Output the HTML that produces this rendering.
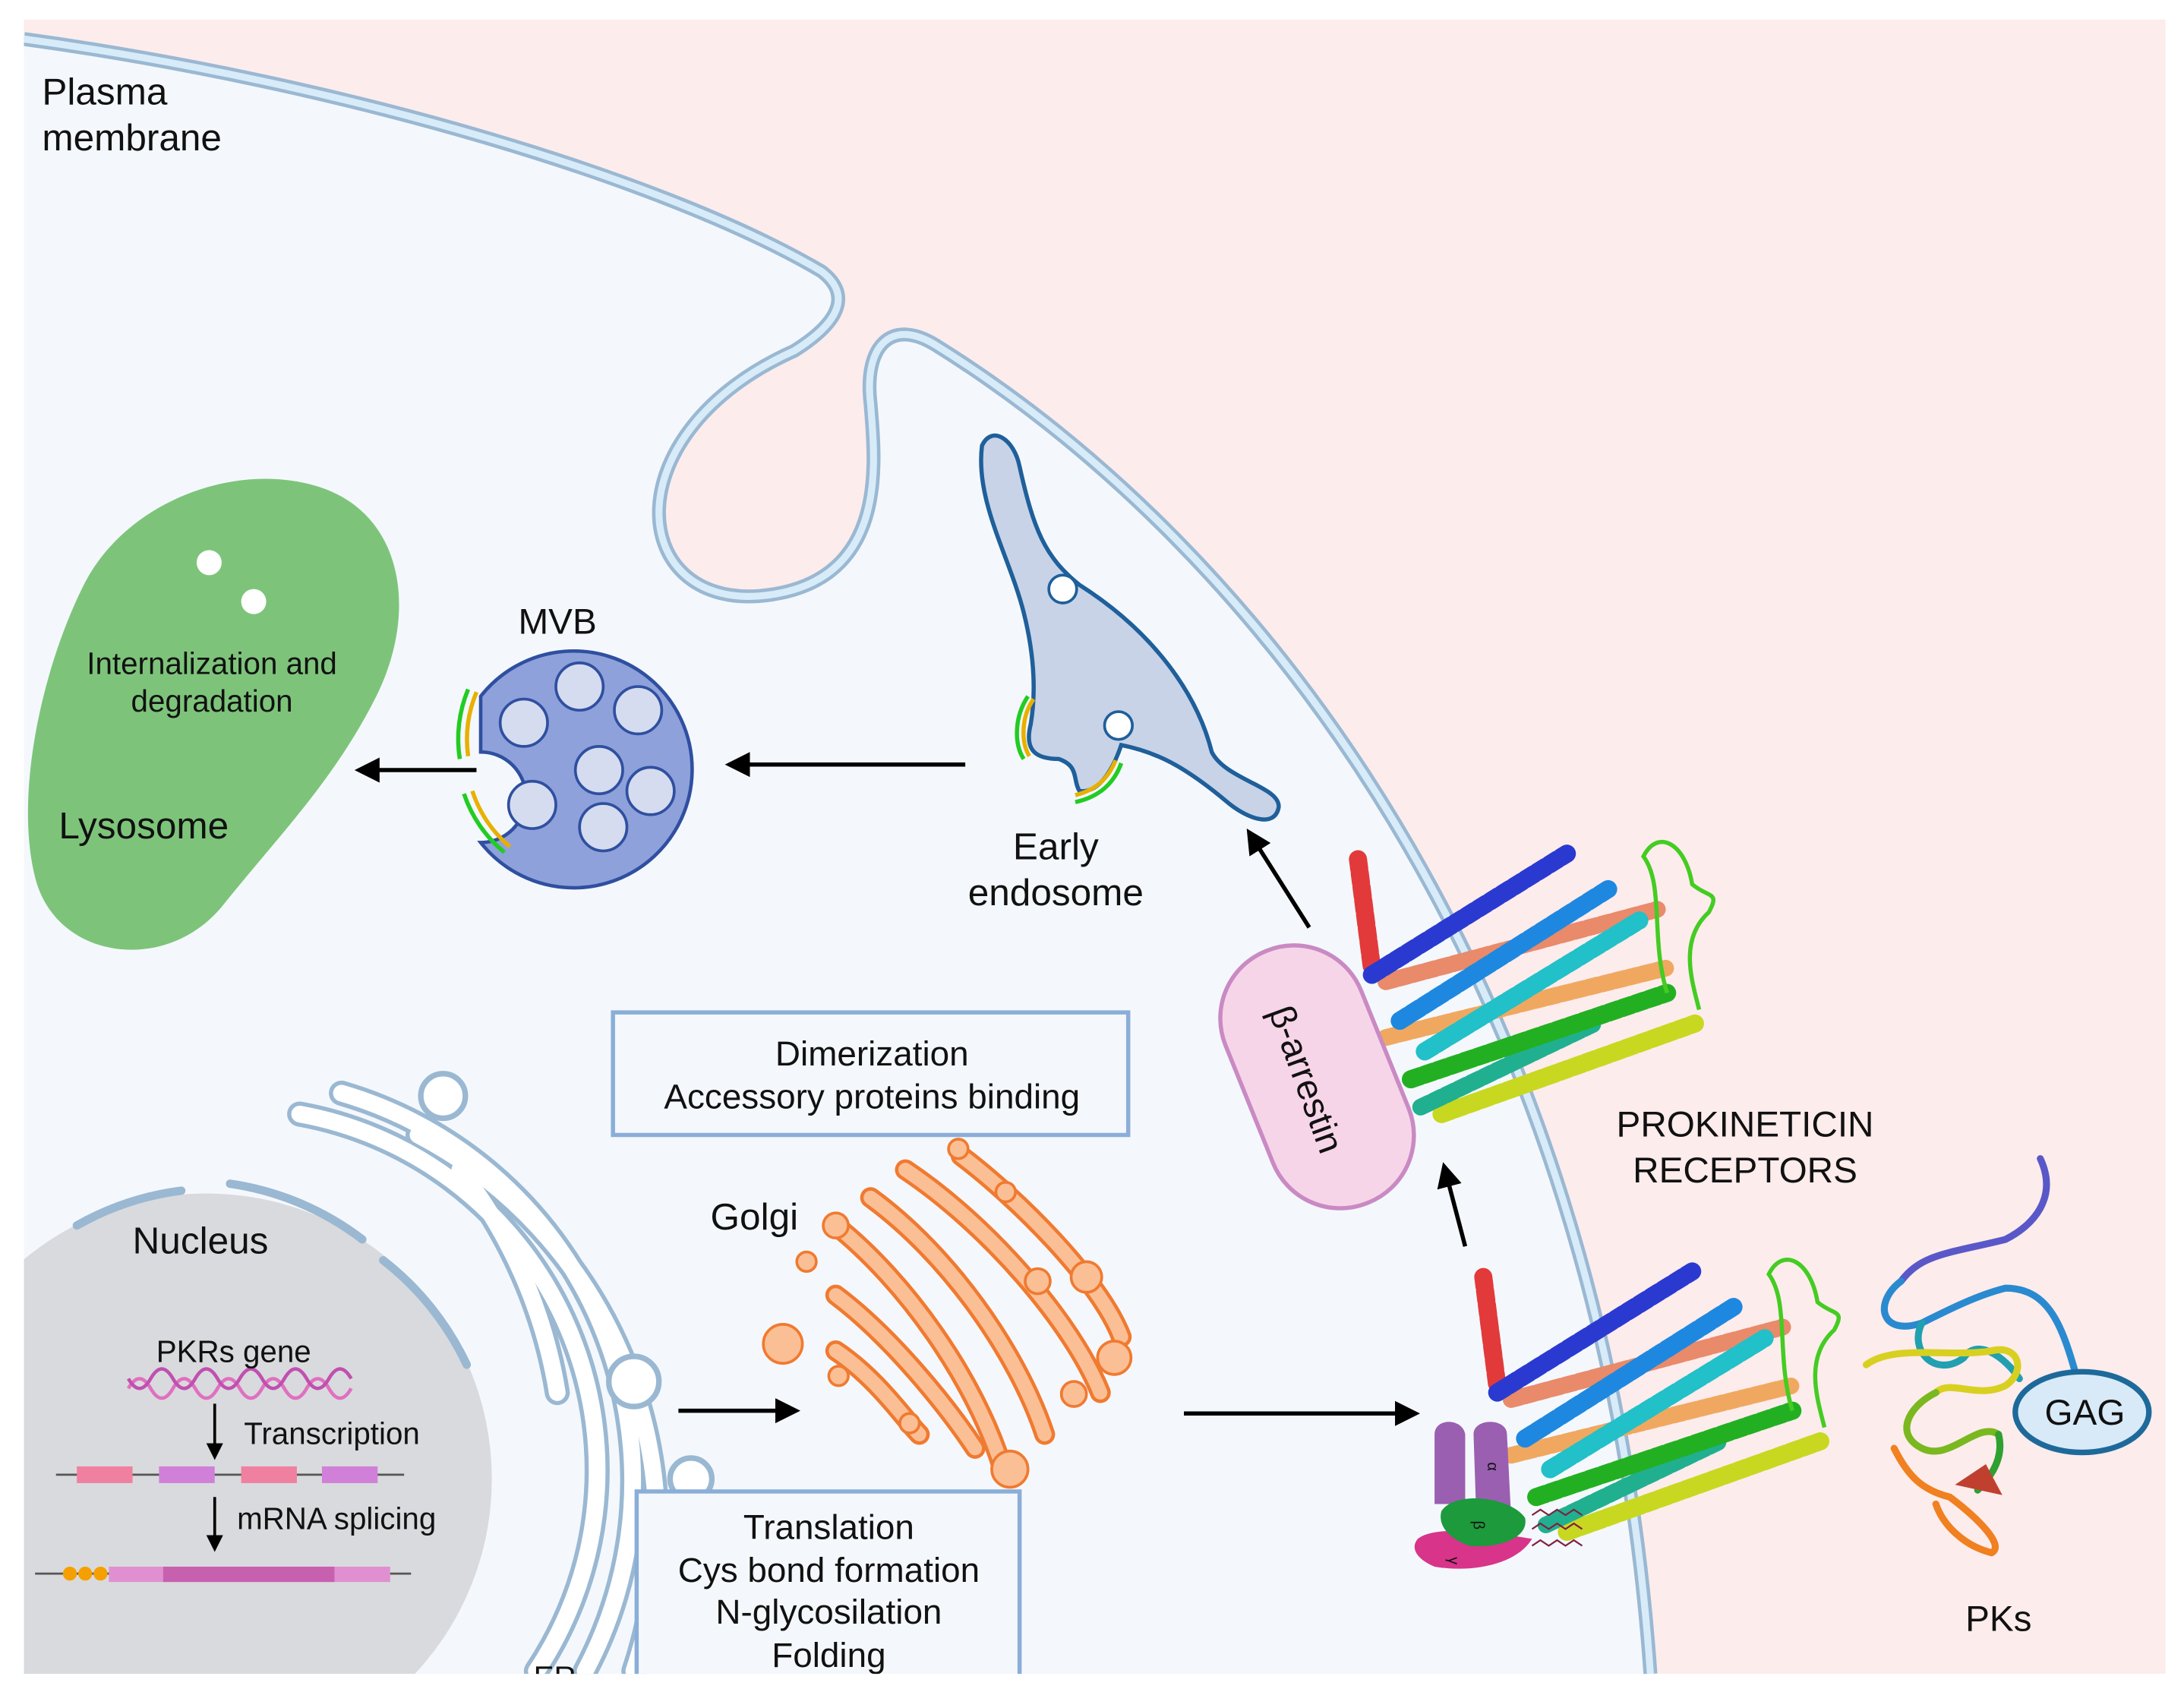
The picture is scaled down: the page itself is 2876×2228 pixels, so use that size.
<!DOCTYPE html>
<html><head><meta charset="utf-8"><style>
html,body{margin:0;padding:0;background:#fff}
svg{display:block}
text{font-family:"Liberation Sans",sans-serif;fill:#111}
</style></head><body>
<svg width="2876" height="2228" viewBox="0 0 1568 1215" xmlns="http://www.w3.org/2000/svg">
<defs>
<clipPath id="c"><rect x="17" y="14" width="1538" height="1188"/></clipPath>
<marker id="ah" viewBox="0 0 10 10" refX="8" refY="5" markerWidth="6" markerHeight="6" orient="auto"><path d="M0,0 L10,5 L0,10 Z" fill="#000"/></marker>
<g id="rec">
<g fill="none" stroke-linecap="round" stroke-dasharray="7 3">
<path d="M10,22 L20,100" stroke="#e23a3a" stroke-width="13"/>
<path d="M30,110 L225,58" stroke="#e98a6a" stroke-width="12"/>
<path d="M30,150 L232,100" stroke="#f0a860" stroke-width="12"/>
<path d="M20,105 L160,18" stroke="#2a3ad0" stroke-width="13"/>
<path d="M40,138 L192,42" stroke="#1e88e0" stroke-width="13"/>
<path d="M58,160 L212,66" stroke="#22c0c8" stroke-width="13"/>
<path d="M70,205 L252,140" stroke="#c8d820" stroke-width="13"/>
<path d="M55,200 L180,140" stroke="#20b090" stroke-width="12"/>
<path d="M48,180 L232,118" stroke="#22b022" stroke-width="13"/>
</g>
<path d="M232,118 C220,80 230,40 215,20 C225,0 245,10 250,40 C262,50 270,45 262,60 C240,80 250,110 255,130" fill="none" stroke="#44cc22" stroke-width="3"/>
</g>
</defs>
<g clip-path="url(#c)">
<rect x="17" y="14" width="1538" height="1188" fill="#fdecec"/>
<path d="M17,28 C250,60 480,130 590,195 C612,212 602,232 570,252 C440,310 450,435 545,428 C640,420 628,330 625,290 C620,248 640,228 672,248 C900,390 1150,700 1185,1202 L17,1202 Z" fill="#f4f8fc"/>
<path d="M17,28 C250,60 480,130 590,195 C612,212 602,232 570,252 C440,310 450,435 545,428 C640,420 628,330 625,290 C620,248 640,228 672,248 C900,390 1150,700 1185,1202" fill="none" stroke="#9ab8d2" stroke-width="10"/>
<path d="M17,28 C250,60 480,130 590,195 C612,212 602,232 570,252 C440,310 450,435 545,428 C640,420 628,330 625,290 C620,248 640,228 672,248 C900,390 1150,700 1185,1202" fill="none" stroke="#d8ebf8" stroke-width="5"/>
<!-- lysosome -->
<path d="M60,420 C90,360 170,330 230,350 C290,370 300,440 270,500 C240,560 200,600 160,650 C120,700 40,690 25,630 C10,570 30,480 60,420 Z" fill="#7dc47a"/>
<circle cx="150" cy="404" r="9" fill="#fff"/><circle cx="182" cy="432" r="9" fill="#fff"/>
<!-- MVB -->
<path d="M345,500 A85,85 0 1 1 345,605 A14,14 0 0 0 345,540 Z" fill="#8fa1da" stroke="#2f4fa0" stroke-width="2.5"/>
<path d="M336,495 A92,92 0 0 0 330,545" fill="none" stroke="#22cc22" stroke-width="3"/>
<path d="M342,497 A88,88 0 0 0 336,543" fill="none" stroke="#e8b000" stroke-width="3"/>
<path d="M333,570 A92,92 0 0 0 362,612" fill="none" stroke="#22cc22" stroke-width="3"/>
<path d="M339,568 A88,88 0 0 0 366,608" fill="none" stroke="#e8b000" stroke-width="3"/>
<g fill="#d5dcef" stroke="#2f4fa0" stroke-width="2">
<circle cx="416" cy="493" r="17"/><circle cx="376" cy="519" r="17"/><circle cx="458" cy="510" r="17"/><circle cx="430" cy="553" r="17"/><circle cx="467" cy="568" r="17"/><circle cx="382" cy="578" r="17"/><circle cx="433" cy="594" r="17"/>
</g>
<!-- early endosome -->
<path d="M705,320 C712,305 728,315 732,335 C742,380 750,400 775,420 C830,455 860,500 870,540 C880,560 920,565 918,580 C915,595 895,588 880,575 C850,550 830,540 805,535 C800,550 790,570 775,568 C770,560 775,550 760,545 C745,545 735,540 740,520 C745,490 740,460 735,440 C725,400 700,360 705,320 Z" fill="#c8d3e8" stroke="#1f5f9a" stroke-width="3"/>
<circle cx="763" cy="423" r="10" fill="#fff" stroke="#1f5f9a" stroke-width="2"/><circle cx="803" cy="521" r="10" fill="#fff" stroke="#1f5f9a" stroke-width="2"/>
<path d="M738,500 C728,515 728,535 735,545" fill="none" stroke="#22cc22" stroke-width="3"/>
<path d="M742,502 C733,515 733,533 739,543" fill="none" stroke="#e8b000" stroke-width="3"/>
<path d="M805,548 C800,562 790,572 772,576" fill="none" stroke="#22cc22" stroke-width="3"/>
<path d="M801,546 C796,558 788,567 772,571" fill="none" stroke="#e8b000" stroke-width="3"/>
<!-- nucleus -->
<circle cx="148" cy="1062" r="205" fill="#d9dadd"/>
<g fill="none" stroke="#9ab8d2" stroke-width="6" stroke-linecap="round">
<path d="M55,880 A205,205 0 0 1 130,855"/><path d="M165,850 A205,205 0 0 1 260,890"/><path d="M275,905 A205,205 0 0 1 335,980"/>
</g>
<!-- ER -->
<g fill="none" stroke-linecap="round">
<g stroke="#9ab8d2" stroke-width="18">
<path d="M215,800 A260,260 0 0 1 385,1200"/><path d="M245,785 A290,290 0 0 1 420,1200"/><path d="M300,815 A320,320 0 0 1 455,1200"/><path d="M330,840 A350,350 0 0 1 400,1000"/>
</g>
<g stroke="#ffffff" stroke-width="12">
<path d="M215,800 A260,260 0 0 1 385,1200"/><path d="M245,785 A290,290 0 0 1 420,1200"/><path d="M300,815 A320,320 0 0 1 455,1200"/><path d="M330,840 A350,350 0 0 1 400,1000"/>
</g>
</g>
<g fill="#fff" stroke="#9ab8d2" stroke-width="4"><circle cx="318" cy="787" r="16"/><circle cx="455" cy="992" r="18"/><circle cx="496" cy="1062" r="15"/></g>
<!-- gene -->
<path d="M92,997 q8,-14 16,0 t16,0 t16,0 t16,0 t16,0 t16,0 t16,0 t16,0 t16,0 t16,0" fill="none" stroke="#e070c0" stroke-width="2.5"/>
<path d="M92,990 q8,14 16,0 t16,0 t16,0 t16,0 t16,0 t16,0 t16,0 t16,0 t16,0 t16,0" fill="none" stroke="#c050b0" stroke-width="2.5"/>
<line x1="40" y1="1059" x2="290" y2="1059" stroke="#555" stroke-width="1.5"/>
<rect x="55" y="1053" width="40" height="12" fill="#f080a0"/><rect x="114" y="1053" width="40" height="12" fill="#d080d8"/><rect x="173" y="1053" width="40" height="12" fill="#f080a0"/><rect x="231" y="1053" width="40" height="12" fill="#d080d8"/>
<line x1="25" y1="1130" x2="295" y2="1130" stroke="#555" stroke-width="1.5"/>
<rect x="78" y="1125" width="202" height="11" fill="#e090d0"/><rect x="117" y="1125" width="123" height="11" fill="#c860b0"/>
<circle cx="50" cy="1130" r="5" fill="#f5a000"/><circle cx="61" cy="1130" r="5" fill="#f5a000"/><circle cx="72" cy="1130" r="5" fill="#f5a000"/>
<line x1="154" y1="1008" x2="154" y2="1046" stroke="#000" stroke-width="2" marker-end="url(#ah)"/>
<line x1="154" y1="1075" x2="154" y2="1112" stroke="#000" stroke-width="2" marker-end="url(#ah)"/>
<!-- golgi -->
<g fill="none" stroke-linecap="round">
<g stroke="#f07a30" stroke-width="15">
<path d="M600,880 C650,920 700,990 720,1055"/><path d="M625,860 C680,900 730,970 750,1030"/><path d="M650,840 C710,880 770,950 790,1000"/><path d="M600,930 C640,960 680,1010 700,1040"/><path d="M600,970 C630,990 650,1020 660,1030"/><path d="M690,830 C730,860 790,920 805,960"/>
</g>
<g stroke="#fbbf96" stroke-width="10">
<path d="M600,880 C650,920 700,990 720,1055"/><path d="M625,860 C680,900 730,970 750,1030"/><path d="M650,840 C710,880 770,950 790,1000"/><path d="M600,930 C640,960 680,1010 700,1040"/><path d="M600,970 C630,990 650,1020 660,1030"/><path d="M690,830 C730,860 790,920 805,960"/>
</g>
</g>
<g fill="#fbbf96" stroke="#f07a30" stroke-width="2">
<circle cx="562" cy="965" r="14"/><circle cx="579" cy="906" r="7"/><circle cx="602" cy="988" r="7"/><circle cx="653" cy="1022" r="7"/><circle cx="771" cy="1001" r="9"/><circle cx="780" cy="917" r="11"/><circle cx="722" cy="856" r="7"/><circle cx="688" cy="825" r="7"/><circle cx="725" cy="1055" r="13"/><circle cx="745" cy="920" r="9"/><circle cx="800" cy="975" r="12"/><circle cx="600" cy="880" r="9"/>
</g>
<!-- boxes -->
<rect x="440" y="727" width="370" height="88" fill="#f4f8fc" stroke="#8aaed8" stroke-width="3"/>
<rect x="457" y="1071" width="275" height="150" fill="#f4f8fc" stroke="#8aaed8" stroke-width="3"/>
<!-- receptors -->
<use href="#rec" x="965" y="595"/>
<use href="#rec" x="1055" y="895"/>
<!-- G protein -->
<path d="M1030,1030 C1030,1018 1050,1018 1052,1030 L1052,1080 L1030,1080 Z" fill="#9a5fb0"/>
<path d="M1058,1030 C1058,1018 1082,1018 1082,1030 L1085,1090 L1060,1090 Z" fill="#9a5fb0"/>
<path d="M1018,1105 C1030,1095 1070,1100 1100,1105 C1090,1122 1060,1130 1030,1125 C1018,1120 1012,1112 1018,1105 Z" fill="#d8348a"/>
<path d="M1035,1085 C1045,1070 1085,1075 1095,1090 C1098,1105 1075,1112 1055,1110 C1040,1105 1032,1095 1035,1085 Z" fill="#1c9a3c"/>
<path d="M1100,1088 l6,-4 l6,4 l6,-4 l6,4 l6,-4 l6,4 M1100,1098 l6,-4 l6,4 l6,-4 l6,4 l6,-4 l6,4 M1100,1110 l6,-4 l6,4 l6,-4 l6,4 l6,-4 l6,4" fill="none" stroke="#802040" stroke-width="1.2"/>
<!-- beta-arrestin -->
<rect x="893" y="676" width="105" height="195" rx="52" fill="#f7d5e8" stroke="#c98ac4" stroke-width="3" transform="rotate(-22 945 773)"/>
<!-- PKs -->
<g fill="none" stroke-width="5" stroke-linecap="round">
<path d="M1465,832 C1478,860 1460,880 1440,890 C1400,900 1380,900 1365,920" stroke="#5a58c8"/>
<path d="M1365,920 C1345,935 1350,960 1380,950 C1400,940 1420,930 1440,925 C1470,925 1480,950 1490,985" stroke="#2a8ad0"/>
<path d="M1380,950 C1370,970 1390,990 1410,975 C1420,960 1440,975 1450,990" stroke="#20a0b0"/>
<path d="M1340,980 C1360,965 1400,975 1430,970 C1450,965 1455,985 1440,995 C1420,1005 1400,990 1390,1000" stroke="#d8d020"/>
<path d="M1390,1000 C1370,1010 1360,1030 1380,1040 C1400,1050 1420,1020 1435,1030" stroke="#7ab820"/>
<path d="M1360,1040 C1370,1060 1380,1070 1400,1075 C1420,1090 1440,1110 1430,1115 C1410,1110 1395,1095 1390,1080" stroke="#f08020"/>
<path d="M1435,1030 C1440,1050 1425,1065 1420,1070" stroke="#30a030"/>
<path d="M1410,1065 l15,-10 l8,15 Z" fill="#c04030" stroke="#c04030"/>
</g>
<ellipse cx="1495" cy="1014" rx="48" ry="29" fill="#d8eaf8" stroke="#1d6a9a" stroke-width="4"/>
<!-- arrows -->
<g stroke="#000" stroke-width="3" marker-end="url(#ah)">
<line x1="342" y1="553" x2="258" y2="553"/>
<line x1="693" y1="549" x2="524" y2="549"/>
<line x1="940" y1="666" x2="897" y2="598"/>
<line x1="1052" y1="895" x2="1037" y2="838"/>
<line x1="487" y1="1013" x2="571" y2="1013"/>
<line x1="850" y1="1015" x2="1016" y2="1015"/>
</g>
<!-- text -->
<g font-size="27">
<text x="30" y="75">Plasma</text><text x="30" y="108">membrane</text>
<text x="372" y="455" font-size="26">MVB</text>
<text x="42" y="602">Lysosome</text>
<text x="758" y="617" text-anchor="middle">Early</text><text x="758" y="650" text-anchor="middle">endosome</text>
<text x="95" y="900">Nucleus</text>
<text x="510" y="883">Golgi</text>
<text x="1253" y="816" text-anchor="middle" font-size="26">PROKINETICIN</text><text x="1253" y="849" text-anchor="middle" font-size="26">RECEPTORS</text>
<text x="1497" y="1023" text-anchor="middle" font-size="26">GAG</text>
<text x="1435" y="1171" text-anchor="middle" font-size="26">PKs</text>
</g>
<g font-size="22">
<text x="152" y="484" text-anchor="middle">Internalization and</text><text x="152" y="511" text-anchor="middle">degradation</text>
<text x="112" y="978">PKRs gene</text>
<text x="175" y="1037">Transcription</text>
<text x="170" y="1098">mRNA splicing</text>
<text x="383" y="1212">ER</text>
</g>
<g font-size="25" text-anchor="middle">
<text x="626" y="765">Dimerization</text><text x="626" y="796">Accessory proteins binding</text>
<text x="595" y="1105">Translation</text><text x="595" y="1136">Cys bond formation</text><text x="595" y="1166">N-glycosilation</text><text x="595" y="1197">Folding</text>
</g>
<text x="0" y="0" font-size="26" text-anchor="middle" transform="translate(938,775) rotate(70)" dy="9">β-arrestin</text>
<text x="1068" y="1050" font-size="11" transform="rotate(90 1068 1050)">α</text>
<text x="1058" y="1092" font-size="11" transform="rotate(90 1058 1092)">β</text>
<text x="1040" y="1118" font-size="11" transform="rotate(90 1040 1118)">γ</text>
</g>
</svg>
</body></html>
